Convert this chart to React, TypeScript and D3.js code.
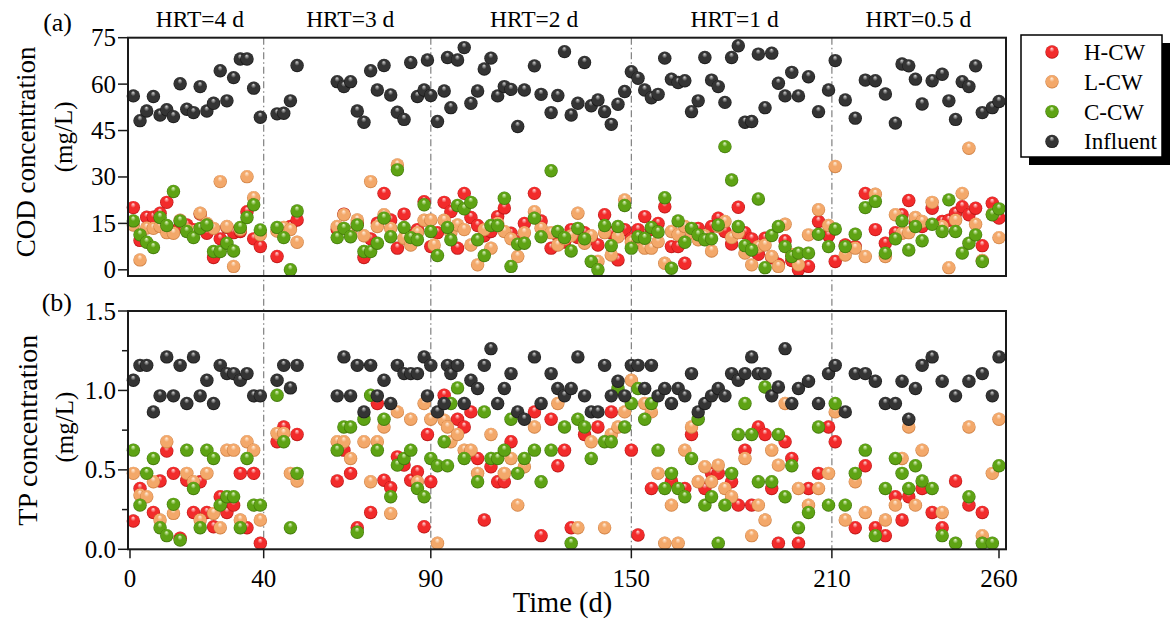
import React from 'react';
import * as d3 from 'd3';

type Pt = [number, number];

// ---- labels / ticks ----
const seriesNames = ['H-CW', 'L-CW', 'C-CW', 'Influent'];
const hrtLabels = ['HRT=4 d', 'HRT=3 d', 'HRT=2 d', 'HRT=1 d', 'HRT=0.5 d'];
const hrtBounds = [0, 40, 90, 150, 210, 260];
const xTicks = [0, 40, 90, 150, 210, 260];
const codTicks = [0, 15, 30, 45, 60, 75];
const tpTicks = [0, 0.5, 1.0, 1.5];
const tpMinor = [0.25, 0.75, 1.25];

// ---- COD (mg/L), [day, value] ----
const codInf: Pt[] = [
  [1, 56.2], [3, 48.2], [5, 51.3], [7, 56.0], [9, 50.0], [11, 51.7], [13, 49.5], [15, 60.1], [17, 51.9], [19, 50.8],
  [21, 59.2], [23, 51.3], [25, 53.8], [27, 64.3], [29, 54.6], [31, 62.1], [33, 68.1], [35, 68.1], [37, 58.7], [39, 49.3],
  [44, 50.4], [46, 50.6], [48, 54.6], [50, 66.0],
  [62, 60.8], [64, 59.2], [66, 60.8], [68, 51.3], [70, 47.7], [72, 64.3], [74, 58.1], [76, 66.0], [78, 56.5], [80, 50.9],
  [82, 48.6], [84, 67.0], [86, 56.0], [88, 58.1], [89, 67.8], [90, 56.3],
  [92, 47.9], [94, 57.8], [95, 68.6], [96, 52.4], [98, 67.8], [100, 71.8], [102, 53.8], [104, 57.8], [106, 64.9], [108, 68.4],
  [110, 56.2], [112, 59.2], [114, 58.3], [116, 46.3], [118, 58.1], [121, 65.9], [123, 56.7], [126, 50.8], [128, 56.3], [130, 70.5],
  [132, 50.0], [134, 53.8], [136, 67.0], [138, 53.0], [140, 54.9], [142, 51.1], [144, 47.0], [146, 53.5], [148, 57.6], [150, 64.0],
  [152, 61.9], [154, 58.1], [156, 55.6], [158, 56.7], [160, 68.4], [162, 61.6], [164, 60.5], [166, 61.1], [168, 51.1], [170, 54.6],
  [172, 68.6], [174, 61.3], [176, 59.2], [178, 54.1], [180, 68.6], [182, 72.4], [184, 47.7], [186, 47.9], [188, 69.7], [190, 52.4],
  [192, 70.0], [194, 60.3], [196, 56.2], [198, 63.8], [200, 56.2], [203, 62.4], [206, 51.1], [209, 58.1], [211, 67.6], [214, 54.9],
  [217, 49.0], [220, 61.3], [223, 61.1], [226, 56.8], [229, 47.4], [231, 66.5], [233, 65.9], [235, 61.6], [237, 53.6], [240, 61.1],
  [243, 63.2], [245, 54.6], [247, 48.6], [249, 60.8], [251, 59.2], [253, 65.9], [255, 50.8], [258, 52.4], [260, 54.4],
];
const codH: Pt[] = [
  [1, 20.1], [3, 9.5], [5, 17], [7, 17], [9, 18.3], [11, 21.8], [13, 12.5], [15, 14], [17, 14.5], [19, 13],
  [21, 18], [23, 11.8], [25, 4], [27, 10], [29, 13.7], [31, 12], [33, 12.4], [35, 18.8], [37, 10], [39, 7.5],
  [44, 4.3], [46, 12], [48, 14], [50, 16.1],
  [62, 13], [64, 18], [66, 12], [68, 15], [70, 4], [72, 10], [74, 15.1], [76, 24.7], [78, 16.1], [80, 7], [82, 18], [84, 11], [86, 13], [88, 22],
  [90, 7.5], [92, 12], [94, 21.8], [96, 18.8], [98, 7], [100, 24.7], [102, 16.9], [104, 14.3], [106, 11], [108, 12.4],
  [110, 17.2], [112, 20], [114, 11.8], [116, 9], [118, 15], [121, 24.7], [123, 15.8], [126, 7], [128, 11], [130, 9],
  [132, 13], [134, 10.4], [136, 12], [138, 10.2], [140, 8], [142, 17.8], [144, 12], [146, 3.2], [148, 13], [150, 10],
  [152, 13], [154, 17.2], [156, 13], [158, 15], [160, 20.4], [162, 7.5], [164, 7.5], [166, 2.1], [168, 12], [170, 13.4],
  [172, 10], [174, 14], [176, 16.7], [178, 12.4], [180, 8.3], [182, 20.2], [184, 12], [186, 10], [188, 5], [190, 10.2],
  [192, 4], [194, 1.8], [196, 9.4], [198, 3], [200, 0], [203, 1.1], [206, 15.6], [209, 11.1], [211, 2.7], [214, 8],
  [217, 7.5], [220, 24.7], [223, 13], [226, 8.6], [229, 12], [231, 17.8], [233, 22.4], [235, 15], [237, 14], [240, 19.9],
  [243, 15.6], [245, 16], [247, 18.3], [249, 20.4], [251, 17.8], [253, 19.9], [255, 7.8], [258, 21.5], [260, 16.7],
];
const codL: Pt[] = [
  [1, 14.5], [3, 3.2], [5, 13.5], [7, 13.4], [9, 14], [11, 12], [13, 11.8], [15, 16], [17, 13], [19, 12],
  [21, 18.3], [23, 15], [25, 13.4], [27, 28.5], [29, 14], [31, 1.1], [33, 13], [35, 30.1], [37, 23.3], [39, 11.3],
  [44, 12.5], [46, 13.7], [48, 13], [50, 8.9],
  [62, 14], [64, 17.8], [66, 12], [68, 16.1], [70, 11], [72, 28.5], [74, 14], [76, 17.8], [78, 13.4], [80, 33.9], [82, 10.2], [84, 8], [86, 12], [88, 16],
  [90, 16.1], [91, 8], [94, 16], [96, 12], [98, 14.5], [100, 13], [102, 8], [104, 1.6], [106, 13], [108, 7],
  [110, 15], [112, 12.4], [114, 10], [116, 4.3], [118, 12], [121, 18.8], [123, 13.4], [126, 12], [128, 8], [130, 10],
  [132, 11], [134, 18.3], [136, 8.6], [138, 11], [140, 2.7], [142, 12], [144, 4.8], [146, 10.7], [148, 22.6], [150, 9],
  [152, 9.1], [154, 7], [156, 7], [158, 9.1], [160, 2.1], [162, 12.4], [164, 11.3], [166, 14], [168, 12], [170, 9.7],
  [172, 11], [174, 6.1], [176, 14], [178, 15.6], [180, 10.4], [182, 12], [184, 5.4], [186, 1.6], [188, 7.5], [190, 8],
  [192, 4.3], [194, 1.1], [196, 14.7], [198, 5], [200, 1.6], [203, 11.3], [206, 19.4], [209, 14.3], [211, 33.4], [214, 4.8],
  [217, 7], [220, 4.3], [223, 24.4], [226, 4.3], [229, 17.8], [231, 11.8], [233, 12], [235, 16.9], [237, 15.6], [240, 21.8],
  [243, 14], [245, 0.7], [247, 16], [249, 24.7], [251, 39.3], [253, 14.7], [255, 3], [258, 18], [260, 10.4],
];
const codC: Pt[] = [
  [1, 15.8], [3, 11.3], [5, 8.9], [7, 7.2], [9, 16.9], [11, 14.3], [13, 25.3], [15, 15.8], [17, 12.4], [19, 10.4],
  [21, 13.4], [23, 14.5], [25, 5.9], [27, 5.9], [29, 8.6], [31, 6.1], [33, 13.7], [35, 16.9], [37, 21], [39, 12.9],
  [44, 13.7], [46, 10.4], [48, 0], [50, 19.0],
  [62, 10.4], [64, 13.4], [66, 10.7], [68, 14.5], [70, 5.9], [72, 5.9], [74, 8.6], [76, 16.7], [78, 10.7], [80, 32.3], [82, 13.7], [84, 10.4], [86, 9.7], [88, 21],
  [90, 12.4], [92, 4.6], [95, 13.7], [96, 9.7], [98, 20.8], [100, 19.7], [102, 21.8], [104, 9.7], [106, 4.6], [108, 14.3],
  [110, 14.3], [112, 23.1], [114, 1.1], [116, 8.3], [118, 8.6], [121, 16.7], [123, 10.7], [126, 32], [128, 12.4], [130, 10.4],
  [132, 6.1], [134, 13.4], [136, 10], [138, 2.7], [140, 0], [142, 14.3], [144, 7.8], [146, 14], [148, 20.8], [150, 7],
  [152, 10.7], [154, 10.2], [156, 13.7], [158, 12.2], [160, 23.3], [162, 0.5], [164, 15.8], [166, 8.9], [168, 13.4], [170, 11.3],
  [172, 9.7], [174, 10], [176, 14.5], [178, 39.8], [180, 29], [182, 14], [184, 7.8], [186, 6.4], [188, 22.9], [190, 0.7],
  [192, 11.1], [194, 14], [196, 7.5], [198, 4.3], [200, 5.4], [203, 5.4], [206, 11.5], [209, 7.5], [211, 13.2], [214, 7.5],
  [217, 11.5], [220, 20.1], [223, 22.1], [226, 5.4], [229, 10], [231, 15.8], [233, 6.4], [235, 14], [237, 9.4], [240, 14.7],
  [243, 12.4], [245, 22.6], [247, 12.4], [249, 5.4], [251, 8.6], [253, 11.3], [255, 2.7], [258, 17.8], [260, 19.7],
];

// ---- TP (mg/L), [day, value] ----
const tpInf: Pt[] = [
  [1, 1.064], [3, 1.158], [5, 1.158], [7, 0.865], [9, 0.966], [11, 1.211], [13, 0.966], [15, 1.158], [17, 0.918], [19, 1.211],
  [21, 0.966], [23, 1.064], [25, 0.918], [27, 1.158], [29, 1.106], [31, 1.106], [33, 1.064], [35, 1.106], [37, 0.966], [39, 0.966],
  [44, 1.064], [46, 1.158], [48, 1.016], [50, 1.158],
  [62, 0.966], [64, 1.211], [66, 0.966], [68, 1.158], [70, 0.865], [72, 1.158], [74, 0.966], [76, 1.064], [78, 0.918], [80, 1.158],
  [82, 1.106], [84, 1.106], [86, 1.106], [88, 1.211], [89, 0.966], [90, 1.158],
  [92, 0.865], [94, 0.918], [95, 1.158], [96, 1.106], [98, 1.158], [100, 0.918], [102, 1.064], [104, 1.012], [106, 1.158], [108, 1.263],
  [110, 0.918], [112, 1.012], [114, 1.106], [116, 0.865], [118, 0.819], [121, 1.211], [123, 0.918], [126, 1.106], [128, 1.012], [130, 0.966],
  [132, 1.012], [134, 1.211], [136, 0.966], [138, 0.865], [140, 0.865], [142, 1.158], [144, 0.966], [146, 1.058], [148, 0.966], [150, 1.158],
  [152, 1.158], [154, 1.012], [156, 1.158], [158, 0.966], [160, 1.012], [162, 0.918], [164, 1.012], [166, 0.966], [168, 1.106], [170, 0.865],
  [172, 0.918], [174, 0.966], [176, 1.012], [178, 0.966], [180, 1.106], [182, 1.064], [184, 1.106], [186, 1.211], [188, 1.106], [190, 1.106],
  [192, 0.966], [194, 1.022], [196, 1.263], [198, 0.918], [200, 1.012], [203, 1.058], [206, 0.918], [209, 1.106], [211, 1.158], [214, 0.865],
  [217, 1.106], [220, 1.106], [223, 1.058], [226, 0.918], [229, 0.918], [231, 1.058], [233, 0.819], [235, 1.012], [237, 1.158], [240, 1.211],
  [243, 1.058], [247, 0.966], [251, 1.058], [255, 1.106], [258, 0.966], [260, 1.211],
];
const tpH: Pt[] = [
  [1, 0.178], [3, 0.383], [7, 0.232], [9, 0.43], [11, 0.618], [13, 0.478], [15, 0.07], [17, 0.435], [19, 0.232], [21, 0.425],
  [23, 0.232], [25, 0.142], [27, 0.331], [29, 0.232], [31, 0.278], [33, 0.478], [35, 0.136], [37, 0.478], [39, 0.038],
  [44, 0.677], [46, 0.77], [50, 0.723],
  [62, 0.43], [64, 0.624], [66, 0.478], [68, 0.136], [72, 0.232], [74, 0.918], [76, 0.435], [78, 0.387], [80, 0.582], [82, 0.53],
  [84, 0.435], [86, 0.488], [88, 0.142], [89, 0.723],
  [90, 0.425], [94, 0.97], [98, 0.819], [100, 0.77], [102, 0.865], [104, 0.572], [106, 0.184], [108, 0.52], [110, 0.425], [112, 0.425],
  [114, 0.677], [121, 0.865], [123, 0.086], [126, 0.819], [128, 0.526], [130, 0.624], [132, 0.136], [136, 0.723], [140, 0.77], [144, 0.865],
  [150, 0.624], [152, 0.09], [156, 0.383], [162, 0.43], [166, 0.383], [168, 0.723], [172, 0.383], [174, 0.478], [176, 0.478],
  [180, 0.425], [182, 0.278], [184, 0.624], [186, 0.278], [188, 0.77], [190, 0.723], [192, 0.383], [194, 0.038], [196, 0.677], [198, 0.572],
  [200, 0.038], [203, 0.383], [206, 0.478], [209, 0.77], [211, 0.677], [217, 0.136], [220, 0.526], [223, 0.136], [226, 0.086], [229, 0.331],
  [231, 0.184], [233, 0.331], [237, 0.383], [240, 0.232], [243, 0.136], [247, 0.43], [251, 0.278], [255, 0.232],
];
const tpL: Pt[] = [
  [1, 0.478], [3, 0.342], [5, 0.331], [7, 0.425], [9, 0.184], [11, 0.677], [13, 0.226], [17, 0.478], [19, 0.425], [21, 0.184],
  [23, 0.478], [25, 0.226], [27, 0.136], [29, 0.624], [31, 0.624], [33, 0.184], [35, 0.677], [37, 0.624], [39, 0.184],
  [44, 0.73], [46, 0.73], [48, 0.478], [50, 0.43],
  [62, 0.677], [64, 0.677], [66, 0.572], [70, 0.677], [72, 0.425], [74, 0.677], [76, 0.77], [78, 0.226], [80, 0.865], [84, 0.819],
  [86, 0.425], [88, 0.918],
  [90, 0.819], [92, 0.038], [94, 0.813], [95, 0.77], [96, 0.677], [98, 0.723], [100, 0.624], [102, 0.624], [104, 0.478], [108, 0.723],
  [112, 0.478], [114, 0.572], [116, 0.278], [118, 0.52], [121, 0.77], [128, 0.918], [134, 0.136], [138, 0.677], [142, 0.136], [144, 0.723],
  [146, 0.77], [148, 0.865], [150, 1.064], [154, 0.918], [156, 0.865], [158, 0.478], [160, 0.038], [162, 0.278], [164, 0.038], [166, 0.624],
  [168, 0.77], [170, 0.425], [172, 0.52], [174, 0.425], [176, 0.53], [178, 0.383], [180, 0.331], [184, 0.572], [186, 0.086], [188, 0.278],
  [190, 0.184], [192, 0.624], [194, 0.53], [196, 0.918], [200, 0.383], [203, 0.278], [206, 0.383], [209, 0.478], [211, 0.865], [214, 0.184],
  [217, 0.425], [220, 0.232], [226, 0.184], [229, 0.278], [231, 0.572], [233, 0.77], [235, 0.278], [237, 0.624], [243, 0.232], [251, 0.77],
  [255, 0.086], [258, 0.478], [260, 0.819],
];
const tpC: Pt[] = [
  [1, 0.624], [3, 0.278], [5, 0.478], [7, 0.572], [9, 0.136], [11, 0.086], [13, 0.283], [15, 0.058], [17, 0.624], [19, 0.383],
  [21, 0.136], [23, 0.624], [25, 0.572], [27, 0.278], [29, 0.331], [31, 0.331], [33, 0.136], [35, 0.572], [37, 0.278], [39, 0.278],
  [44, 0.97], [46, 0.677], [48, 0.136], [50, 0.478],
  [62, 0.624], [64, 0.77], [66, 0.77], [68, 0.107], [70, 0.819], [72, 0.97], [74, 0.624], [76, 0.819], [78, 0.331], [80, 0.53],
  [82, 0.572], [84, 0.624], [86, 0.383], [88, 0.331],
  [90, 0.572], [92, 0.526], [94, 0.677], [95, 0.526], [96, 0.918], [98, 1.016], [100, 0.572], [104, 0.425], [106, 0.865], [108, 0.572],
  [110, 0.572], [112, 0.624], [114, 0.819], [116, 0.478], [118, 0.572], [121, 0.624], [123, 0.425], [126, 0.624], [130, 0.77], [132, 0.038],
  [134, 0.819], [136, 0.77], [138, 0.572], [142, 0.677], [144, 0.677], [146, 1.012], [148, 0.77], [150, 0.918], [152, 1.012], [154, 0.819],
  [156, 0.918], [158, 0.624], [160, 0.383], [162, 0.478], [164, 0.383], [166, 0.331], [168, 0.572], [170, 0.819], [172, 0.278], [174, 0.331],
  [176, 0.038], [178, 0.278], [180, 0.478], [182, 0.723], [184, 0.918], [186, 0.723], [188, 0.425], [190, 1.022], [192, 0.425], [194, 0.723],
  [196, 0.331], [198, 0.526], [200, 0.136], [203, 0.232], [206, 0.77], [209, 0.278], [211, 0.918], [214, 0.278], [217, 0.478], [220, 0.624],
  [223, 0.086], [226, 0.383], [229, 0.572], [231, 0.478], [233, 0.383], [235, 0.526], [237, 0.43], [240, 0.383], [243, 0.086], [247, 0.038],
  [251, 0.331], [255, 0.038], [258, 0.038], [260, 0.526],
];

// ball shading: [highlight, body, rim]
const ballShades = [
  ['#ffe2e2', '#f22b2b', '#b01010'],
  ['#fff0e0', '#f3a86a', '#c8783a'],
  ['#e8f8d0', '#5ea314', '#3a6e06'],
  ['#d8d8d8', '#343434', '#111111'],
];

const W = 1175;
const H = 626;
const left = 128;
const right = 1006;
const R = 6.7;
const FONT = '"Liberation Serif", "Times New Roman", serif';

function Ball({ cx, cy, i }: { cx: number; cy: number; i: number }) {
  return <circle cx={cx} cy={cy} r={R} fill={`url(#ball${i})`} />;
}

export default function App() {
  const x = d3.scaleLinear().domain([0, 260]).range([130, 999]);
  const yCod = d3.scaleLinear().domain([-2, 75]).range([276, 37.7]);
  const yTp = d3.scaleLinear().domain([0, 1.5]).range([549.3, 311]);

  const codSeries = [codH, codL, codC, codInf];
  const tpSeries = [tpH, tpL, tpC, tpInf];

  const codTop = yCod(75);
  const codBot = yCod(-2);
  const tpTop = yTp(1.5);
  const tpBot = yTp(0);

  return (
    <svg width={W} height={H} style={{ position: 'absolute', left: 0, top: 0, background: '#fff' }} fontFamily={FONT}>
      <defs>
        {ballShades.map((s, i) => (
          <radialGradient key={i} id={`ball${i}`} cx="0.5" cy="0.5" r="0.5" fx="0.48" fy="0.22">
            <stop offset="0" stopColor={s[0]} />
            <stop offset="0.38" stopColor={s[1]} />
            <stop offset="0.85" stopColor={s[1]} />
            <stop offset="1" stopColor={s[2]} />
          </radialGradient>
        ))}
      </defs>

      {/* HRT period separators */}
      {hrtBounds.slice(1, -1).map((d) => (
        <line key={d} x1={x(d)} x2={x(d)} y1={codTop} y2={tpBot}
          stroke="#808080" strokeWidth={1.2} strokeDasharray="7 3 1.5 3" />
      ))}
      {hrtLabels.map((t, i) => (
        <text key={t} x={x((hrtBounds[i] + hrtBounds[i + 1]) / 2) + 3} y={27} fontSize={23.5} textAnchor="middle">{t}</text>
      ))}

      {/* panel (a) COD */}
      <g>
        {codSeries.map((pts, i) => (
          <g key={i}>
            {pts.map(([d, v], k) => <Ball key={k} cx={x(d)} cy={yCod(v)} i={i} />)}
          </g>
        ))}
        <rect x={left} y={codTop} width={right - left} height={codBot - codTop} fill="none" stroke="#1a1a1a" strokeWidth={2} />
        {codTicks.map((t) => (
          <g key={t}>
            <line x1={left - 10} x2={left} y1={yCod(t)} y2={yCod(t)} stroke="#1a1a1a" strokeWidth={1.5} />
            <text x={left - 12} y={yCod(t) + 8.5} fontSize={25} textAnchor="end">{t}</text>
          </g>
        ))}
        <text x={72} y={31} fontSize={26} textAnchor="end">(a)</text>
        <text transform={`translate(35,${(codTop + codBot) / 2 - 5}) rotate(-90)`} fontSize={27} textAnchor="middle">COD concentration</text>
        <text transform={`translate(72,${(codTop + codBot) / 2 - 20}) rotate(-90)`} fontSize={25} textAnchor="middle">(mg/L)</text>
      </g>

      {/* panel (b) TP */}
      <g>
        {tpSeries.map((pts, i) => (
          <g key={i}>
            {pts.map(([d, v], k) => <Ball key={k} cx={x(d)} cy={yTp(v)} i={i} />)}
          </g>
        ))}
        <rect x={left} y={tpTop} width={right - left} height={tpBot - tpTop} fill="none" stroke="#1a1a1a" strokeWidth={2} />
        {tpTicks.map((t) => (
          <g key={t}>
            <line x1={left - 10} x2={left} y1={yTp(t)} y2={yTp(t)} stroke="#1a1a1a" strokeWidth={1.5} />
            <text x={left - 12} y={yTp(t) + 8.5} fontSize={25} textAnchor="end">{d3.format('.1f')(t)}</text>
          </g>
        ))}
        {tpMinor.map((t) => (
          <line key={t} x1={left - 6} x2={left} y1={yTp(t)} y2={yTp(t)} stroke="#1a1a1a" strokeWidth={1.5} />
        ))}
        {xTicks.map((t) => (
          <g key={t}>
            <line x1={x(t)} x2={x(t)} y1={tpBot} y2={tpBot + 9} stroke="#1a1a1a" strokeWidth={1.5} />
            <text x={x(t)} y={587} fontSize={25} textAnchor="middle">{t}</text>
          </g>
        ))}
        <text x={72} y={311} fontSize={26} textAnchor="end">(b)</text>
        <text transform={`translate(37,${(tpTop + tpBot) / 2}) rotate(-90)`} fontSize={28} textAnchor="middle">TP concentration</text>
        <text transform={`translate(73,${(tpTop + tpBot) / 2 - 3}) rotate(-90)`} fontSize={25} textAnchor="middle">(mg/L)</text>
        <text x={x(130) - 2} y={612} fontSize={28.5} textAnchor="middle">Time (d)</text>
      </g>

      {/* legend */}
      <g>
        <rect x={1029} y={43} width={141} height={122} fill="#000" />
        <rect x={1021} y={35} width={141} height={122} fill="#fff" stroke="#000" strokeWidth={1.5} />
        {seriesNames.map((n, i) => (
          <g key={n}>
            <Ball cx={1052} cy={52 + i * 29.8} i={i} />
            <text x={1084} y={52 + i * 29.8 + 8} fontSize={23}>{n}</text>
          </g>
        ))}
      </g>
    </svg>
  );
}
